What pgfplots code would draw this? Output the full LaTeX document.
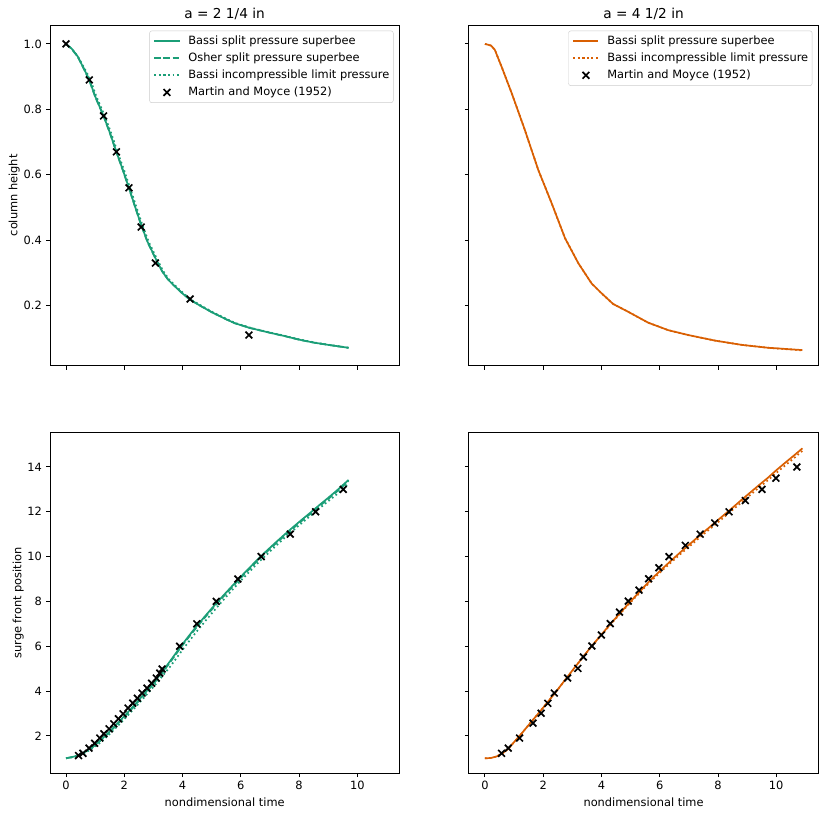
\documentclass[border=0pt]{standalone}
\usepackage{fontspec}
\setmainfont{DejaVu Sans}
\usepackage{pgfplots}
\pgfplotsset{compat=1.18}
\definecolor{dgreen}{HTML}{1B9E77}
\definecolor{dorange}{HTML}{D95F02}
\pgfplotsset{
  myax/.style={
    scale only axis, width=306.3pt, height=298.8pt, anchor=south west,
    xmin=-0.55, xmax=11.44,
    axis line style={black, line width=0.8pt},
    tick align=outside, xtick pos=left, ytick pos=left,
    major tick length=3.5pt,
    tick style={black, line width=0.8pt},
    xtick={0,2,4,6,8,10},
    tick label style={font=\fontsize{10}{12}\selectfont, inner sep=0pt},
    xticklabel shift=3.5pt, yticklabel shift=3.5pt,
    /pgf/number format/assume math mode=true,
    label style={font=\fontsize{10}{12}\selectfont},
    title style={font=\fontsize{12}{14}\selectfont, at={(0.5,1)}, anchor=base},
    legend cell align=left,
    legend image code/.code={\draw[mark repeat=2,mark phase=2,##1] plot coordinates {(0pt,0pt)(11pt,0pt)(22pt,0pt)};},
    legend style={at={(1,1)}, anchor=north east, xshift=-5pt, yshift=-5pt,
      draw=black!20, rounded corners=2pt, fill=white, fill opacity=0.8, draw opacity=1, text opacity=1,
      inner xsep=3.5pt, inner ysep=4pt, font=\fontsize{10}{12}\selectfont, row sep=5pt,
      nodes={inner sep=0pt, text height=7.5pt, text depth=2.5pt},
      /tikz/every odd column/.append style={column sep=7pt}},
  },
  solidl/.style={line width=1.5pt, line cap=butt, solid, draw=#1, color=#1},
  dashl/.style={line width=1.5pt, dash pattern=on 5.55pt off 2.4pt, draw=#1, color=#1},
  dotl/.style={line width=1.5pt, line cap=butt, dash pattern=on 1.5pt off 2.475pt, draw=#1, color=#1},
  mm/.style={only marks, mark=x, mark size=4.2pt, draw=black, color=black, line width=1.5pt,
    legend image code/.code={\draw[mark repeat=2,mark phase=2,##1] plot coordinates {(0pt,0pt)(11pt,0pt)(22pt,0pt)};}},
}
\begin{document}
\begin{tikzpicture}
\path[use as bounding box] (0,0) rectangle (728pt,717.4pt);
% top left
\begin{axis}[myax, at={(43.85pt,396.7pt)},
  ymin=0.0165, ymax=1.058, ytick={0.2,0.4,0.6,0.8,1.0},
  yticklabel style={/pgf/number format/.cd, fixed, fixed zerofill, precision=1},
  xticklabels={,,,,,},
  title={a = 2 1/4 in},
  ylabel={column height},
  ylabel style={at={(axis description cs:-0.0937,0.5)}, anchor=base},
]
\addplot[solidl=dgreen] coordinates {(0,1.0)(0.2,0.985)(0.4,0.962)(0.65,0.918)(0.8,0.89)(1.0,0.84)(1.29,0.78)(1.5,0.73)(1.73,0.67)(1.95,0.615)(2.16,0.56)(2.4,0.495)(2.58,0.447)(2.8,0.395)(3.07,0.345)(3.3,0.305)(3.5,0.28)(3.7,0.262)(4.0,0.237)(4.26,0.218)(4.6,0.2)(5.0,0.18)(5.5,0.158)(5.8,0.146)(6.3,0.132)(7.0,0.117)(7.5,0.107)(8.0,0.096)(8.5,0.087)(9.0,0.080)(9.7,0.071)};
\addlegendentry{Bassi split pressure superbee}
\addplot[dashl=dgreen] coordinates {(0,1.0)(0.2,0.984)(0.4,0.961)(0.65,0.917)(0.8,0.888)(1.0,0.839)(1.29,0.779)(1.5,0.729)(1.73,0.669)(1.95,0.614)(2.16,0.559)(2.4,0.494)(2.58,0.446)(2.8,0.394)(3.07,0.344)(3.3,0.305)(3.5,0.28)(3.7,0.262)(4.0,0.237)(4.26,0.218)(4.6,0.2)(5.0,0.18)(5.5,0.158)(5.8,0.146)(6.3,0.132)(7.0,0.117)(7.5,0.107)(8.0,0.096)(8.5,0.087)(9.0,0.080)(9.7,0.071)};
\addlegendentry{Osher split pressure superbee}
\addplot[dotl=dgreen] coordinates {(0,1.0)(0.2,0.985)(0.4,0.963)(0.68,0.918)(0.84,0.89)(1.04,0.84)(1.33,0.78)(1.54,0.73)(1.77,0.67)(1.99,0.615)(2.2,0.56)(2.44,0.495)(2.62,0.447)(2.84,0.395)(3.11,0.345)(3.34,0.305)(3.54,0.28)(3.74,0.262)(4.04,0.237)(4.3,0.218)(4.64,0.2)(5.04,0.18)(5.54,0.158)(5.84,0.146)(6.34,0.132)(7.04,0.117)(7.54,0.107)(8.04,0.096)(8.54,0.087)(9.04,0.080)(9.72,0.071)};
\addlegendentry{Bassi incompressible limit pressure}
\addplot[mm] coordinates {(0,1.0)(0.8,0.89)(1.29,0.78)(1.73,0.67)(2.16,0.56)(2.58,0.44)(3.07,0.33)(4.26,0.22)(6.28,0.11)};
\addlegendentry{Martin and Moyce (1952)}
\end{axis}
% top right
\begin{axis}[myax, at={(411.3pt,396.7pt)},
  ymin=0.0165, ymax=1.058, ytick={0.2,0.4,0.6,0.8,1.0},
  xticklabels={,,,,,}, yticklabels={,,,,},
  title={a = 4 1/2 in},
]
\addplot[solidl=dorange] coordinates {(0,1.0)(0.21,0.995)(0.34,0.982)(0.59,0.926)(0.92,0.849)(1.37,0.737)(1.83,0.615)(2.29,0.513)(2.75,0.406)(3.21,0.329)(3.66,0.268)(4.0,0.238)(4.4,0.205)(4.92,0.181)(5.6,0.148)(6.29,0.125)(6.98,0.11)(7.9,0.093)(8.81,0.08)(9.73,0.071)(10.9,0.064)};
\addlegendentry{Bassi split pressure superbee}
\addplot[dotl=dorange] coordinates {(0,1.0)(0.21,0.995)(0.34,0.982)(0.59,0.926)(0.92,0.849)(1.37,0.737)(1.83,0.615)(2.29,0.513)(2.75,0.406)(3.21,0.329)(3.66,0.268)(4.0,0.238)(4.4,0.205)(4.92,0.181)(5.6,0.148)(6.29,0.125)(6.98,0.11)(7.9,0.093)(8.81,0.08)(9.73,0.071)(10.9,0.063)};
\addlegendentry{Bassi incompressible limit pressure}
\addlegendimage{mm}
\addlegendentry{Martin and Moyce (1952)}
\end{axis}
% bottom left
\begin{axis}[myax, at={(43.85pt,39.2pt)},
  ymin=0.332, ymax=15.535, ytick={2,4,6,8,10,12,14},
  xlabel={nondimensional time},
  xlabel style={at={(axis description cs:0.5,-0.097)}, anchor=base},
  ylabel={surge front position},
  ylabel style={at={(axis description cs:-0.0823,0.5)}, anchor=base},
]
\addplot[solidl=dgreen] coordinates {(0,1.0)(0.3,1.08)(0.6,1.25)(0.9,1.5)(1.2,1.82)(1.5,2.2)(1.8,2.6)(2.1,3.02)(2.4,3.45)(2.7,3.9)(3.0,4.35)(3.3,4.85)(3.6,5.38)(3.9,5.92)(4.2,6.43)(4.5,6.92)(4.8,7.38)(5.1,7.83)(5.4,8.26)(5.7,8.68)(6.0,9.1)(6.3,9.5)(6.6,9.9)(6.9,10.27)(7.2,10.63)(7.5,10.98)(7.8,11.32)(8.1,11.65)(8.4,11.97)(8.7,12.3)(9.0,12.62)(9.3,12.95)(9.7,13.42)};
\addplot[dashl=dgreen] coordinates {(0,1.0)(0.3,1.07)(0.6,1.24)(0.9,1.48)(1.2,1.8)(1.5,2.17)(1.8,2.57)(2.1,2.98)(2.4,3.41)(2.7,3.86)(3.0,4.31)(3.3,4.8)(3.6,5.33)(3.9,5.87)(4.2,6.38)(4.5,6.87)(4.8,7.33)(5.1,7.78)(5.4,8.21)(5.7,8.63)(6.0,9.05)(6.3,9.45)(6.6,9.85)(6.9,10.22)(7.2,10.58)(7.5,10.93)(7.8,11.27)(8.1,11.6)(8.4,11.92)(8.7,12.25)(9.0,12.57)(9.3,12.9)(9.7,13.37)};
\addplot[dotl=dgreen] coordinates {(0,1.0)(0.3,1.06)(0.6,1.2)(0.9,1.43)(1.2,1.72)(1.5,2.08)(1.8,2.47)(2.1,2.88)(2.4,3.3)(2.7,3.74)(3.0,4.18)(3.3,4.65)(3.6,5.13)(3.9,5.66)(4.2,6.18)(4.5,6.68)(4.8,7.15)(5.1,7.61)(5.4,8.06)(5.7,8.5)(6.0,8.92)(6.3,9.33)(6.6,9.73)(6.9,10.1)(7.2,10.47)(7.5,10.83)(7.8,11.17)(8.1,11.5)(8.4,11.83)(8.7,12.15)(9.0,12.47)(9.3,12.78)(9.65,13.2)};
\addplot[mm] coordinates {(0.43,1.12)(0.58,1.22)(0.79,1.45)(0.98,1.67)(1.16,1.9)(1.3,2.09)(1.48,2.31)(1.64,2.54)(1.8,2.76)(1.96,2.98)(2.13,3.24)(2.29,3.46)(2.45,3.68)(2.61,3.91)(2.78,4.13)(2.94,4.35)(3.1,4.58)(3.22,4.8)(3.3,4.98)(3.9,6.0)(4.49,7.0)(5.16,8.0)(5.9,9.0)(6.7,10.0)(7.7,11.0)(8.57,12.0)(9.52,13.0)};
\end{axis}
% bottom right
\begin{axis}[myax, at={(411.3pt,39.2pt)},
  ymin=0.332, ymax=15.535, ytick={2,4,6,8,10,12,14},
  yticklabels={,,,,,,},
  xlabel={nondimensional time},
  xlabel style={at={(axis description cs:0.5,-0.097)}, anchor=base},
]
\addplot[solidl=dorange] coordinates {(0,1.0)(0.2,1.01)(0.4,1.08)(0.6,1.22)(0.8,1.42)(1.0,1.72)(1.3,2.17)(1.6,2.64)(1.9,3.1)(2.2,3.58)(2.5,4.07)(2.8,4.58)(3.1,5.08)(3.4,5.58)(3.7,6.06)(4.0,6.52)(4.3,6.98)(4.6,7.42)(4.9,7.86)(5.2,8.28)(5.5,8.7)(5.8,9.1)(6.1,9.47)(6.4,9.83)(6.7,10.18)(7.0,10.52)(7.3,10.86)(7.6,11.19)(7.9,11.52)(8.2,11.85)(8.5,12.18)(8.8,12.52)(9.1,12.85)(9.4,13.18)(9.7,13.5)(10.0,13.85)(10.3,14.18)(10.6,14.5)(10.9,14.83)};
\addplot[dotl=dorange] coordinates {(0,1.0)(0.2,1.01)(0.4,1.08)(0.6,1.22)(0.8,1.42)(1.0,1.72)(1.3,2.17)(1.6,2.64)(1.9,3.1)(2.2,3.58)(2.5,4.07)(2.8,4.57)(3.1,5.07)(3.4,5.57)(3.7,6.05)(4.0,6.5)(4.3,6.95)(4.6,7.39)(4.9,7.82)(5.2,8.23)(5.5,8.64)(5.8,9.03)(6.1,9.4)(6.4,9.75)(6.7,10.1)(7.0,10.43)(7.3,10.77)(7.6,11.1)(7.9,11.42)(8.2,11.75)(8.5,12.08)(8.8,12.41)(9.1,12.74)(9.4,13.07)(9.7,13.39)(10.0,13.73)(10.3,14.06)(10.6,14.38)(10.9,14.72)};
\addplot[mm] coordinates {(0.57,1.22)(0.8,1.45)(1.19,1.9)(1.65,2.57)(1.93,3.01)(2.16,3.45)(2.38,3.91)(2.84,4.58)(3.19,5.01)(3.38,5.52)(3.67,6.01)(4.0,6.5)(4.3,7.01)(4.62,7.52)(4.92,8.01)(5.29,8.5)(5.62,9.01)(5.97,9.5)(6.32,10.0)(6.88,10.5)(7.39,11.0)(7.89,11.5)(8.38,12.0)(8.94,12.5)(9.51,13.0)(9.99,13.5)(10.71,14.0)};
\end{axis}
\end{tikzpicture}
\end{document}
